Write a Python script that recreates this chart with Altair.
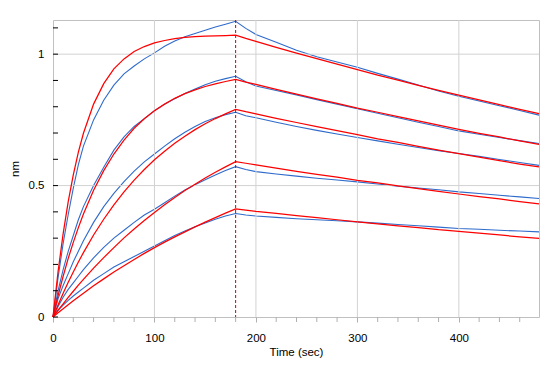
import altair as alt
import pandas as pd

# Association phase time points (sec)
assoc_t = [0, 5, 10, 15, 20, 25, 30, 40, 50, 60, 70, 80, 90, 100, 110, 120,
           130, 140, 150, 160, 170, 180]
# Dissociation phase time points (sec)
dissoc_t = [190, 200, 220, 240, 260, 280, 300, 320, 340, 360, 380, 400, 420,
            440, 460, 479]

# Measured response (nm), highest to lowest concentration
data_assoc = [
    [0, 0.15, 0.28, 0.39, 0.49, 0.58, 0.65, 0.75, 0.825, 0.882, 0.925, 0.955,
     0.982, 1.005, 1.03, 1.05, 1.066, 1.079, 1.091, 1.103, 1.114, 1.125],
    [0, 0.10, 0.18, 0.25, 0.31, 0.37, 0.42, 0.50, 0.57, 0.635, 0.685, 0.725,
     0.755, 0.785, 0.81, 0.83, 0.85, 0.867, 0.884, 0.897, 0.907, 0.916],
    [0, 0.07, 0.12, 0.165, 0.21, 0.25, 0.29, 0.36, 0.42, 0.47, 0.515, 0.555,
     0.59, 0.62, 0.65, 0.678, 0.703, 0.725, 0.744, 0.758, 0.77, 0.779],
    [0, 0.04, 0.075, 0.105, 0.13, 0.155, 0.18, 0.225, 0.265, 0.30, 0.33, 0.36,
     0.388, 0.41, 0.435, 0.46, 0.483, 0.503, 0.522, 0.54, 0.557, 0.572],
    [0, 0.025, 0.045, 0.063, 0.08, 0.095, 0.11, 0.14, 0.165, 0.19, 0.21, 0.23,
     0.25, 0.27, 0.29, 0.31, 0.327, 0.343, 0.358, 0.372, 0.384, 0.394],
]
data_dissoc = [
    [1.098, 1.075, 1.045, 1.015, 0.99, 0.97, 0.95, 0.927, 0.905, 0.883, 0.86,
     0.84, 0.822, 0.804, 0.786, 0.768],
    [0.895, 0.879, 0.862, 0.845, 0.827, 0.81, 0.792, 0.775, 0.758, 0.741,
     0.725, 0.708, 0.695, 0.683, 0.671, 0.66],
    [0.766, 0.758, 0.741, 0.725, 0.71, 0.696, 0.683, 0.67, 0.657, 0.645,
     0.633, 0.622, 0.611, 0.599, 0.588, 0.577],
    [0.561, 0.553, 0.544, 0.536, 0.528, 0.521, 0.514, 0.506, 0.498, 0.491,
     0.484, 0.476, 0.47, 0.463, 0.457, 0.451],
    [0.388, 0.384, 0.379, 0.374, 0.37, 0.366, 0.362, 0.357, 0.352, 0.347,
     0.342, 0.337, 0.334, 0.33, 0.327, 0.324],
]

# Global 1:1 fit curves (nm)
fit_assoc = [
    [0, 0.173, 0.317, 0.439, 0.541, 0.627, 0.699, 0.81, 0.888, 0.944, 0.982,
     1.01, 1.029, 1.043, 1.052, 1.059, 1.064, 1.067, 1.069, 1.07, 1.071, 1.072],
    [0, 0.081, 0.155, 0.223, 0.284, 0.34, 0.392, 0.482, 0.557, 0.62, 0.673,
     0.718, 0.754, 0.785, 0.81, 0.832, 0.85, 0.864, 0.877, 0.887, 0.896, 0.904],
    [0, 0.046, 0.09, 0.132, 0.171, 0.209, 0.245, 0.312, 0.372, 0.427, 0.476,
     0.521, 0.561, 0.598, 0.631, 0.661, 0.688, 0.713, 0.735, 0.755, 0.773, 0.79],
    [0, 0.026, 0.05, 0.075, 0.098, 0.121, 0.143, 0.186, 0.226, 0.264, 0.301,
     0.335, 0.367, 0.398, 0.427, 0.455, 0.481, 0.505, 0.529, 0.551, 0.571, 0.591],
    [0, 0.016, 0.031, 0.047, 0.062, 0.076, 0.09, 0.119, 0.145, 0.171, 0.195,
     0.219, 0.242, 0.264, 0.285, 0.305, 0.324, 0.343, 0.361, 0.378, 0.395, 0.411],
]
fit_dissoc = [
    [1.06, 1.049, 1.026, 1.004, 0.983, 0.962, 0.941, 0.92, 0.901, 0.881,
     0.862, 0.844, 0.826, 0.808, 0.79, 0.774],
    [0.894, 0.885, 0.866, 0.848, 0.83, 0.813, 0.795, 0.779, 0.762, 0.746,
     0.73, 0.714, 0.699, 0.685, 0.67, 0.657],
    [0.781, 0.773, 0.756, 0.74, 0.724, 0.709, 0.694, 0.678, 0.664, 0.649,
     0.635, 0.622, 0.608, 0.595, 0.582, 0.571],
    [0.585, 0.579, 0.566, 0.554, 0.543, 0.532, 0.52, 0.51, 0.499, 0.488,
     0.478, 0.468, 0.458, 0.449, 0.439, 0.43],
    [0.407, 0.402, 0.394, 0.386, 0.378, 0.37, 0.362, 0.354, 0.347, 0.34,
     0.332, 0.326, 0.319, 0.312, 0.305, 0.299],
]

switch_time = [180]
x_labels = [0, 100, 200, 300, 400]
x_minor_ticks = [t for t in range(0, 480, 20) if t % 100 != 0]
y_labels = [0, 0.5, 1]
y_minor_ticks = [round(i * 0.1, 1) for i in range(12)]

times = assoc_t + dissoc_t
rows = []
for i in range(5):
    for t, v in zip(times, data_assoc[i] + data_dissoc[i]):
        rows.append({"curve": i, "kind": "data", "t": t, "v": v})
    for t, v in zip(times, fit_assoc[i] + fit_dissoc[i]):
        rows.append({"curve": i, "kind": "fit", "t": t, "v": v})
df = pd.DataFrame(rows)

FONT = "Liberation Sans"
BLUE = "#2f6bcb"
RED = "#ff0000"
GRID = "#d2d2d2"
TICK = "#b0b0b0"
PLOT_H = 297

x_scale = alt.Scale(domain=[0, 479], nice=False, zero=False)
y_scale = alt.Scale(domain=[0, 1.13], nice=False)

x_axis = alt.Axis(
    values=x_labels, grid=False, labelFlush=False,
    tickSize=5, tickColor=TICK, domain=False,
    labelPadding=10, labelFontSize=11.5, labelFont=FONT, labelColor="#000",
    title="Time (sec)", titleFont=FONT, titleFontSize=11.5,
    titleFontWeight="normal", titleColor="#000", titlePadding=3,
)
y_axis = alt.Axis(
    values=y_labels, format="~g", grid=False, labelFlush=False,
    ticks=False, tickSize=0, domain=False,
    labelPadding=9, labelFontSize=11.5, labelFont=FONT, labelColor="#000",
    title="nm", titleFont=FONT, titleFontSize=11.5, titleFontWeight="normal",
    titleColor="#000", titlePadding=8,
)

base = alt.Chart(df)
data_lines = base.transform_filter(alt.datum.kind == "data").mark_line(
    color=BLUE, strokeWidth=1.1
).encode(
    x=alt.X("t:Q", scale=x_scale, axis=x_axis),
    y=alt.Y("v:Q", scale=y_scale, axis=y_axis),
    detail="curve:N",
)
fit_lines = base.transform_filter(alt.datum.kind == "fit").mark_line(
    color=RED, strokeWidth=1.25
).encode(
    x=alt.X("t:Q", scale=x_scale),
    y=alt.Y("v:Q", scale=y_scale),
    detail="curve:N",
)

# light grid at the labelled values
grid_x = alt.Chart(pd.DataFrame({"t": x_labels[1:]})).mark_rule(
    color=GRID, strokeWidth=1
).encode(x=alt.X("t:Q", scale=x_scale))
grid_y = alt.Chart(pd.DataFrame({"v": y_labels[1:]})).mark_rule(
    color=GRID, strokeWidth=1
).encode(y=alt.Y("v:Q", scale=y_scale))

switch_rule = alt.Chart(pd.DataFrame({"t": switch_time})).mark_rule(
    color="#d00000", strokeDash=[3, 2], strokeWidth=1
).encode(x=alt.X("t:Q", scale=x_scale))

# outward minor ticks under the x axis
minor_x = alt.Chart(pd.DataFrame({"t": x_minor_ticks})).mark_rule(
    color=TICK, strokeWidth=1
).encode(
    x=alt.X("t:Q", scale=x_scale),
    y=alt.value(PLOT_H), y2=alt.value(PLOT_H + 5),
)

# inward minor ticks on the y axis
minor_y = alt.Chart(pd.DataFrame({"v": y_minor_ticks})).mark_rule(
    color="#000000", strokeWidth=1
).encode(
    y=alt.Y("v:Q", scale=y_scale),
    x=alt.value(0), x2=alt.value(5),
)

chart = alt.layer(
    data_lines, grid_x, grid_y, fit_lines, switch_rule, minor_x, minor_y
).properties(
    width=486, height=PLOT_H,
    autosize=alt.AutoSizeParams(type="none"),
    padding={"left": 53, "top": 20, "right": 16, "bottom": 51},
    background="white",
).configure_view(stroke="#c0c0c0", strokeWidth=1)

chart.save("out.html", embed_options={"renderer": "svg", "actions": False})
